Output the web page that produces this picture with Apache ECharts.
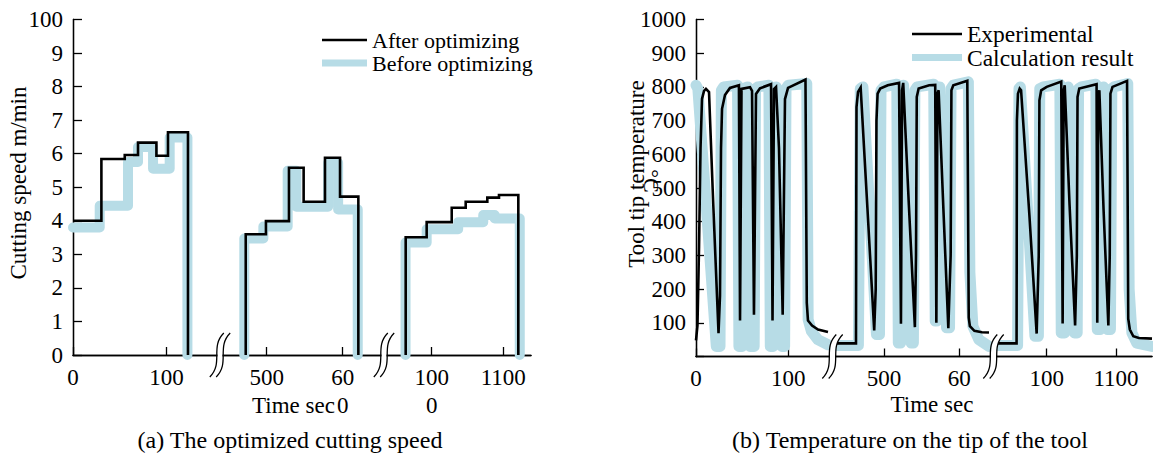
<!DOCTYPE html>
<html><head><meta charset="utf-8">
<script src="https://cdn.jsdelivr.net/npm/echarts@6/dist/echarts.min.js"></script>
<style>html,body{margin:0;padding:0;background:#fff}#c{width:1153px;height:455px}</style>
</head><body><div id="c"></div>
<script>
// ---------- DATA ----------
// (a) cutting speed, m/min  [time sec, value]  (step: value holds from t until next t)
const speedAfterSeg1  = [[0,4.0],[30.4,5.84],[55.4,5.96],[69.6,6.33],[89.3,5.94],[101.7,6.64],[123.1,0]];
const speedBeforeSeg1 = [[0,3.8],[28.6,4.45],[58.9,5.75],[69.6,6.2],[85.7,5.55],[103.5,6.48],[122.5,0]];
const speedAfterSeg2  = [[472.4,0],[472.4,3.6],[499,3.99],[529.3,5.58],[548.6,4.57],[576.7,5.88],[596.5,4.72],[620.6,0]];
const speedBeforeSeg2 = [[470.5,0],[470.5,3.47],[495.6,3.83],[527.6,5.49],[539,4.42],[580.8,5.73],[594,4.34],[619.8,0]];
const speedAfterSeg3  = [[963.7,0],[963.7,3.51],[993,3.96],[1028,4.39],[1047.5,4.57],[1077.7,4.69],[1094,4.77],[1121,0]];
const speedBeforeSeg3 = [[963.5,0],[963.5,3.35],[993,3.75],[1037,3.96],[1072,4.17],[1088,4.07],[1123,0]];

// (b) tool tip temperature, deg C  [time sec, value]
const tempExpSeg1 = [[0,48],[1.6,92],[3.3,326],[4.9,618],[6.5,764],[8.7,788],[10.8,794],[14.1,785],[18.4,472],[24.4,69],[26,180],[27.1,618],[28.2,735],[31.4,776],[36.8,797],[46.5,805],[47.7,107],[49.3,794],[58.5,799],[60.7,788],[62.8,124],[65,779],[69.3,796],[81.3,808],[82.9,107],[84.5,794],[86.7,800],[89.9,618],[93.9,124],[96.4,764],[99.7,797],[118.6,822],[120,160],[121.3,107],[125.7,92],[132.2,80],[143,73]];
const tempCalcSeg1 = [[0,805],[2,795],[22,30],[26,30],[27.5,790],[30,800],[45,805],[46.5,30],[50,30],[51.5,795],[56,800],[58.5,30],[63,30],[64.5,795],[67,800],[79,805],[80.5,30],[83.5,30],[85,795],[87,800],[93,30],[96,30],[97.5,795],[100,805],[120,810],[121.5,110],[125,75],[132,50],[143,35]];
const tempExpSeg2 = [[437.6,39],[462.8,39],[463.5,740],[465.5,785],[469,798],[478,440],[487,77],[489,200],[490,700],[491.5,780],[495,795],[505,805],[520,812],[522.5,97],[524,790],[525.5,812],[533,450],[541,87],[542.5,300],[543.5,770],[546,795],[560,805],[568,806],[569.5,100],[571,780],[572.5,790],[579,430],[585.4,84],[588.5,300],[589.5,790],[592,805],[610.6,818],[612.5,115],[614,90],[620,76],[630,72],[639.4,71]];
const tempCalcSeg2 = [[437.6,33],[466,33],[468.5,795],[472,800],[490,65],[494,65],[496,790],[500,800],[517,808],[519,40],[522,40],[523.5,800],[526,805],[536,40],[539,40],[541,790],[544,800],[566,808],[568,105],[570,105],[571.5,790],[574,800],[583,85],[587,85],[589,795],[592,805],[612,815],[614,250],[618,90],[626,50],[639.4,30]];
const tempExpSeg3 = [[929.7,39],[956.5,39],[957,700],[958.5,780],[961,795],[963,790],[975,420],[985.5,68],[988.5,300],[989.5,760],[992,790],[1000,800],[1021,816],[1023,98],[1024.5,790],[1026,805],[1033,450],[1041,92],[1043.5,300],[1044.5,770],[1047,795],[1072,808],[1073,100],[1074.5,780],[1076,790],[1082,440],[1089,92],[1091,300],[1092,780],[1095,800],[1116,818],[1117.7,112],[1120,80],[1125,60],[1133,55],[1152,53]];
const tempCalcSeg3 = [[929.7,33],[958,33],[960,795],[962,800],[983,60],[988,60],[990,795],[995,800],[1019,808],[1021,70],[1026,70],[1028,795],[1031,800],[1040,70],[1044,70],[1046,795],[1050,800],[1071,808],[1073,80],[1077,80],[1079,795],[1082,800],[1088,80],[1092,80],[1094,795],[1097,800],[1117,810],[1119,200],[1123,70],[1130,40],[1152,30]];

// tick values and labels
const xTicksSegs = [[0,100],[500,600],[1000,1100]];
const xTickLabelsA = {0:'0',100:'100',500:'500',600:'60\n0',1000:'100\n0',1100:'1100'};
const xTickLabelsB = {0:'0',100:'100',500:'500',600:'60',1000:'100',1100:'1100'};
const yTickLabelsA = {0:'0',1:'1',2:'2',3:'3',4:'4',5:'5',6:'6',7:'7',8:'8',9:'9',10:'100'};
const yTicksB = [100,200,300,400,500,600,700,800,900,1000];

const namesA = ['After optimizing','Before optimizing'];
const namesB = ['Experimental','Calculation result'];
const titleA = 'Cutting speed m/min', titleB = 'Tool tip temperature', unitB = '°C';
const xTitle = 'Time sec';
const captionA = '(a) The optimized cutting speed';
const captionB = '(b) Temperature on the tip of the tool';

// ---------- LAYOUT / STYLE ----------
const FONT = 'Liberation Serif';
const BLUE = '#b7dce6';
const AX = {color:'#000', width:1.3};
const panels = [
  {frame:{left:73, top:19.5, width:458, height:335.5}, ymin:0, ymax:10, yint:1,
   segs:[{left:73,width:143,min:0,max:153.1},{left:224,width:156,min:443.8,max:649.1},{left:388,width:143,min:939,max:1138.7}],
   labels:xTickLabelsA, blackW:2.6, blueW:10,
   black:[speedAfterSeg1,speedAfterSeg2,speedAfterSeg3], blue:[speedBeforeSeg1,speedBeforeSeg2,speedBeforeSeg3],
   names:namesA, step:'end', yfmt:v=>yTickLabelsA[v]!==undefined?yTickLabelsA[v]:'', ytickLen:9,
   legend:{left:322, y1:40, y2:63, w:45, fs:22}},
  {frame:{left:696, top:19.5, width:456, height:337}, ymin:0, ymax:1000, yint:100,
   segs:[{left:696,width:132,min:0,max:143},{left:837,width:152,min:437.6,max:639.4},{left:998,width:154,min:929.7,max:1152}],
   labels:xTickLabelsB, blackW:2.6, blueW:11,
   black:[tempExpSeg1,tempExpSeg2,tempExpSeg3], blue:[tempCalcSeg1,tempCalcSeg2,tempCalcSeg3],
   names:namesB, step:false, yfmt:v=>yTicksB.indexOf(v)>=0?String(v):'', ytickLen:8,
   legend:{left:912, y1:34, y2:57.5, w:50, fs:23.5}}
];

const grid=[], xAxis=[], yAxis=[], series=[], legend=[], graphic=[];
const txt = {fontFamily:FONT, color:'#000'};

panels.forEach((p)=>{
  const f=p.frame;
  const gi=grid.length;
  grid.push({left:f.left, top:f.top, width:f.width, height:f.height, containLabel:false, outerBoundsMode:'none'});
  xAxis.push({gridIndex:gi, type:'value', min:0, max:1, position:'bottom', axisLine:{show:true,lineStyle:AX}, axisTick:{show:false}, axisLabel:{show:false}, splitLine:{show:false}});
  xAxis.push({gridIndex:gi, type:'value', min:0, max:1, position:'top', axisLine:{show:true,lineStyle:AX}, axisTick:{show:false}, axisLabel:{show:false}, splitLine:{show:false}});
  yAxis.push({gridIndex:gi, type:'value', min:p.ymin, max:p.ymax, interval:p.yint, position:'left',
    axisLine:{show:true,lineStyle:AX}, axisTick:{show:true,inside:true,length:p.ytickLen,lineStyle:AX},
    axisLabel:{...txt, fontSize:23, margin:10, formatter:p.yfmt}, splitLine:{show:false}});
  yAxis.push({gridIndex:gi, type:'value', min:p.ymin, max:p.ymax, position:'right', axisLine:{show:true,lineStyle:AX}, axisTick:{show:false}, axisLabel:{show:false}, splitLine:{show:false}});
  p.segs.forEach((s,k)=>{
    const g=grid.length;
    grid.push({left:s.left, top:f.top, width:s.width, height:f.height, containLabel:false, outerBoundsMode:'none'});
    const xi=xAxis.length, yi=yAxis.length;
    xAxis.push({gridIndex:g, type:'value', min:s.min, max:s.max, position:'bottom',
      axisLine:{show:false}, axisTick:{show:true, inside:true, length:8, lineStyle:AX, customValues:xTicksSegs[k]},
      axisLabel:{...txt, fontSize:23, lineHeight:28, margin:8, customValues:xTicksSegs[k], formatter:v=>p.labels[v]},
      splitLine:{show:false}});
    yAxis.push({gridIndex:g, type:'value', min:p.ymin, max:p.ymax, show:false});
    series.push({type:'line', name:p.names[1], xAxisIndex:xi, yAxisIndex:yi, data:p.blue[k], step:p.step,
      symbol:'none', showSymbol:false, color:BLUE, z:2, clip:true,
      lineStyle:{color:BLUE, width:p.blueW, cap:'round', join:'round'}});
    series.push({type:'line', name:p.names[0], xAxisIndex:xi, yAxisIndex:yi, data:p.black[k], step:p.step,
      symbol:'none', showSymbol:false, color:'#000', z:3, clip:true,
      lineStyle:{color:'#000', width:p.blackW, cap:'butt', join:'miter'}});
  });
  // legend entries
  const L=p.legend;
  [[p.names[0],L.y1,2.5],[p.names[1],L.y2,7]].forEach(([nm,cy,h])=>{
    legend.push({data:[nm], left:L.left, top:cy-14, icon:'rect', itemWidth:L.w, itemHeight:h, padding:0, itemGap:0,
      selectedMode:false, itemStyle:{borderWidth:0}, textStyle:{...txt, fontSize:L.fs, lineHeight:28}});
  });
  // axis breaks between segments
  const by=f.top+f.height;
  for(let k=0;k<2;k++){
    const cx=(p.segs[k].left+p.segs[k].width+p.segs[k+1].left)/2;
    const mk=(dx,lw,col)=>({type:'bezierCurve', z:100, silent:true,
      shape:{x1:cx+dx+7,y1:by-22,x2:cx+dx-7,y2:by+22,cpx1:cx+dx-7,cpy1:by-8,cpx2:cx+dx+7,cpy2:by+8},
      style:{stroke:col,lineWidth:lw,fill:null}});
    graphic.push(mk(0,5,'#fff'));
    graphic.push(mk(-3.2,1.3,'#000'));
    graphic.push(mk(3.2,1.3,'#000'));
  }
});

// titles and captions
const T=(o)=>({type:'text', z:50, silent:true, ...o, style:{fontFamily:FONT, fill:'#000', fontSize:23, align:'center', verticalAlign:'middle', ...o.style}});
graphic.push(T({x:18, y:183, rotation:Math.PI/2, style:{text:titleA}}));
graphic.push(T({x:636, y:174, rotation:Math.PI/2, style:{text:titleB}}));
graphic.push(T({x:651, y:181, rotation:-Math.PI/2, style:{text:unitB, fontSize:22}}));
graphic.push(T({x:252, y:405, style:{text:xTitle, align:'left'}}));
graphic.push(T({x:932, y:404, style:{text:xTitle}}));
graphic.push(T({x:290, y:440, style:{text:captionA, fontSize:24}}));
graphic.push(T({x:910, y:440, style:{text:captionB, fontSize:24}}));

const chart = echarts.init(document.getElementById('c'), null, {renderer:'svg'});
chart.setOption({animation:false, backgroundColor:'#fff', grid, xAxis, yAxis, series, legend, graphic});
</script></body></html>
